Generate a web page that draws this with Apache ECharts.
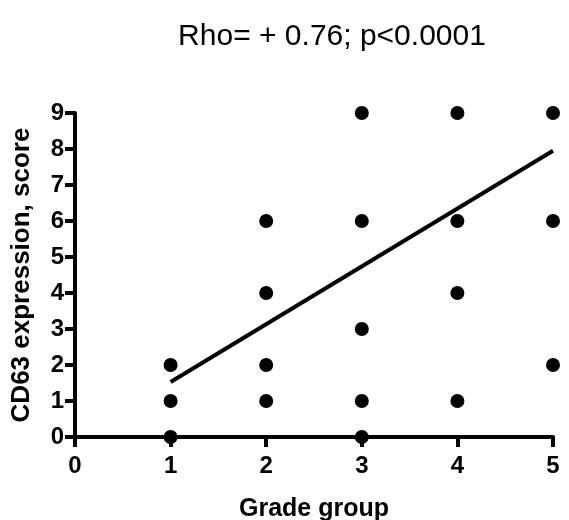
<!DOCTYPE html>
<html>
<head>
<meta charset="utf-8">
<script src="https://cdn.jsdelivr.net/npm/echarts@6/dist/echarts.min.js"></script>
<style>html,body{margin:0;padding:0;background:#fff;}#c{width:569px;height:520px;}</style>
</head>
<body>
<div id="c"></div>
<script>
// Data
var pointX = [1, 1, 1, 2, 2, 2, 2, 3, 3, 3, 3, 3, 4, 4, 4, 4, 5, 5, 5];
var pointY = [0, 1, 2, 1, 2, 4, 6, 0, 1, 3, 6, 9, 1, 4, 6, 9, 2, 6, 9];
var fitX = [1, 5];
var fitY = [1.53, 7.95];
var xTicks = [0, 1, 2, 3, 4, 5];
var yTicks = [0, 1, 2, 3, 4, 5, 6, 7, 8, 9];
var titleText = 'Rho= + 0.76; p<0.0001';
var xName = 'Grade group';
var yName = 'CD63 expression, score';

var chart = echarts.init(document.getElementById('c'), null, {renderer: 'canvas'});
var font = 'Liberation Sans, Arial, Helvetica, sans-serif';
function axisCommon(nameSize) {
  return {
    axisLine: {show: true, onZero: false, lineStyle: {color: '#000', width: 4}},
    axisTick: {show: true, length: 10, lineStyle: {color: '#000', width: 4}},
    splitLine: {show: false},
    axisLabel: {color: '#000', fontWeight: 'bold', fontSize: 24, fontFamily: font},
    nameTextStyle: {color: '#000', fontWeight: 'bold', fontSize: nameSize, fontFamily: font}
  };
}
var xa = axisCommon(25);
Object.assign(xa, {type: 'value', min: xTicks[0], max: xTicks[xTicks.length - 1], interval: 1,
  name: xName, nameLocation: 'middle', nameGap: 60});
xa.axisLabel.margin = 17;
var ya = axisCommon(26);
Object.assign(ya, {type: 'value', min: yTicks[0], max: yTicks[yTicks.length - 1], interval: 1,
  name: yName, nameLocation: 'middle', nameGap: 40});
ya.axisLabel.margin = 11;

chart.setOption({
  animation: false,
  backgroundColor: '#fff',
  title: {text: titleText, left: 327, top: 17, textAlign: 'center',
    textStyle: {color: '#000', fontWeight: 'normal', fontSize: 30, fontFamily: font}},
  grid: {left: 75, right: 16, top: 113, bottom: 83, containLabel: false, outerBoundsMode: 'none'},
  xAxis: xa,
  yAxis: ya,
  series: [
    {type: 'scatter', symbol: 'circle', symbolSize: 14, itemStyle: {color: '#000', opacity: 1},
      data: pointX.map(function (x, i) { return [x, pointY[i]]; }), z: 3},
    {type: 'line', symbol: 'none', lineStyle: {color: '#000', width: 4},
      data: fitX.map(function (x, i) { return [x, fitY[i]]; }), z: 4}
  ]
});
</script>
</body>
</html>
